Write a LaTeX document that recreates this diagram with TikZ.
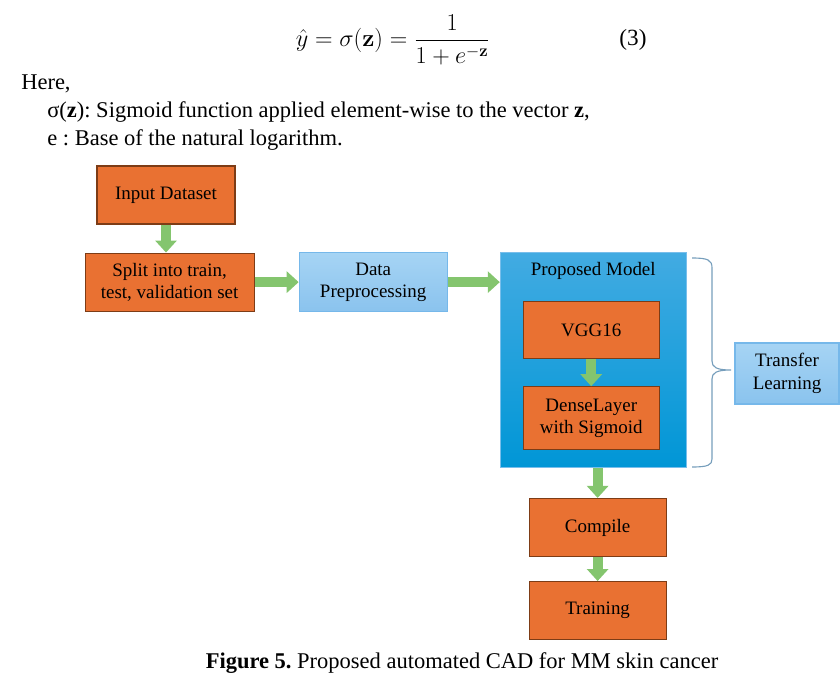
\documentclass[tikz,border=0pt]{standalone}
\usepackage[no-math]{fontspec}
\setmainfont{Liberation Serif}
\usepackage{amsmath, amssymb}
\usepackage{tikz}
\usetikzlibrary{positioning, arrows.meta}

\definecolor{boxorange}{RGB}{233,113,50}
\definecolor{boxedge}{RGB}{125,60,22}
\definecolor{lighttop}{RGB}{166,212,244}
\definecolor{lightbot}{RGB}{138,195,238}
\definecolor{lightedge}{RGB}{118,184,234}
\definecolor{modeltop}{RGB}{66,171,226}
\definecolor{modelbot}{RGB}{0,150,214}
\definecolor{modeledge}{RGB}{120,190,235}
\definecolor{arrowgreen}{RGB}{132,197,110}
\definecolor{bracecol}{RGB}{118,158,188}

\frenchspacing
\begin{document}
\begin{tikzpicture}[
    x=0.25mm, y=-0.25mm,
    plain/.style={inner sep=0pt, font=\fontsize{16}{19}\selectfont},
    box/.style={draw=boxedge, fill=boxorange, line width=0.8pt, minimum width=34.5mm, minimum height=14.5mm, align=center, inner sep=1pt, font=\fontsize{13.5}{16}\selectfont},
    lightbox/.style={box, draw=lightedge, top color=lighttop, bottom color=lightbot},
    modelbox/.style={draw=modeledge, line width=0.6pt, top color=modeltop, bottom color=modelbot, minimum width=46.5mm, minimum height=53.75mm},
    arr/.style={draw=arrowgreen, line width=2.5mm, -{Triangle[width=5.25mm, length=3mm]}},
    curly/.style={draw=bracecol, line width=0.8pt}
]
\useasboundingbox (0,0) rectangle (840,685);

% equation and its legend
\node[plain, font=\fontsize{16.5}{20}\selectfont] (eq) at (393,40) {$\hat{y} = \sigma(\mathbf{z}) = \dfrac{1}{1+e^{-\mathbf{z}}}$};
\node[plain, font=\fontsize{16.5}{20}\selectfont] (eqno) at (633,40) {(3)};
\node[plain, anchor=west] (here) at (21,84) {Here,};
\node[plain, anchor=west] (sig) at (47,112) {σ(\textbf{z}): Sigmoid function applied element-wise to the vector \textbf{z},};
\node[plain, anchor=west] (base) at (47,140) {e : Base of the natural logarithm.};

% flow
\node[box] (input) at (166,195) {Input Dataset};
\node[box, minimum width=42.25mm, below=7mm of input, xshift=0.9mm] (split) {Split into train,\\test, validation set};
\node[lightbox, minimum width=37mm, minimum height=14.75mm, right=11mm of split] (prep) {Data\\Preprocessing};
\node[modelbox, anchor=north west] (model) at ([xshift=13mm]prep.north east) {};
\node[plain, font=\fontsize{13.5}{16}\selectfont] (title) at ([yshift=-4.75mm]model.north) {Proposed Model};
\node[box, minimum width=34mm, minimum height=14.25mm, below=12.25mm of model.north, xshift=-0.5mm] (vgg) {VGG16};
\node[box, minimum width=34mm, minimum height=15.75mm, below=6.75mm of vgg] (dense) {DenseLayer\\with Sigmoid};
\node[box, minimum width=34.25mm, below=7.5mm of model, xshift=1.1mm] (compile) {Compile};
\node[box, minimum width=34.25mm, below=6mm of compile] (train) {Training};
\node[lightbox, minimum width=26mm, minimum height=15.25mm] (transfer) at (787,373.5) {Transfer\\Learning};

\draw[arr] (input.south) -- (input.south |- split.north);
\draw[arr] (split) -- (prep);
\draw[arr] (prep) -- (prep -| model.west);
\draw[arr] (vgg) -- (dense);
\draw[arr] (compile.north |- model.south) -- (compile.north);
\draw[arr] (compile) -- (train);

% brace round the model
\coordinate (btop) at (692,258);
\coordinate (btip) at (731,370);
\coordinate (bbot) at (692,467);
\draw[curly] (btop) .. controls (708,258) and (712,260) .. (712,268) -- (712,361)
    .. controls (712,367) and (716,370) .. (btip)
    .. controls (716,370) and (712,373) .. (712,379) -- (712,459)
    .. controls (712,465) and (708,467) .. (bbot);

\node[plain] (cap) at (462,663) {\textbf{Figure 5.} Proposed automated CAD for MM skin cancer};
\end{tikzpicture}
\end{document}
